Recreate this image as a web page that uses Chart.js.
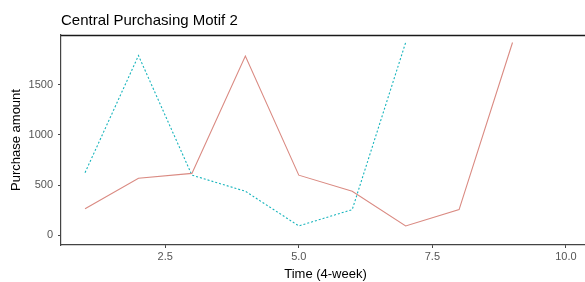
<!DOCTYPE html>
<html>
<head>
<meta charset="utf-8">
<script src="https://cdn.jsdelivr.net/npm/chart.js@4"></script>
<style>
  html, body { margin: 0; padding: 0; background: #fff; overflow: hidden; }
  #wrap { position: relative; width: 595px; height: 282px; }
</style>
</head>
<body>
<div id="wrap"><canvas id="chart"></canvas></div>
<script>
// -- data ---------------------------------------------------------------
var weeksA = [1, 2, 3, 4, 5, 6, 7, 8, 9];
var amountA = [265, 570, 618, 1785, 600, 440, 95, 257, 1920];   // solid red
var weeksB = [1, 2, 3, 4, 5, 6, 7];
var amountB = [625, 1790, 600, 440, 95, 257, 1920];             // dotted teal
var xTicks = [2.5, 5, 7.5, 10];
var yTicks = [0, 500, 1000, 1500];

var TITLE = 'Central Purchasing Motif 2';
var FONT = "'Liberation Sans', Arial, sans-serif";

function pts(xs, ys) { return xs.map(function(x, i) { return { x: x, y: ys[i] }; }); }

// title + top panel line
var decor = {
  id: 'decor',
  afterDraw: function(chart) {
    var ctx = chart.ctx, a = chart.chartArea;
    ctx.save();
    ctx.strokeStyle = '#1a1a1a';
    ctx.lineWidth = 1.5;
    ctx.beginPath();
    ctx.moveTo(a.left, a.top + 0.5);
    ctx.lineTo(a.right, a.top + 0.5);
    ctx.stroke();
    ctx.fillStyle = '#000';
    ctx.font = '15px ' + FONT;
    ctx.textBaseline = 'alphabetic';
    ctx.fillText(TITLE, 61, 25);
    ctx.restore();
  }
};

var axisGrid = { drawOnChartArea: false, drawTicks: true, tickLength: 3, color: '#444', lineWidth: 1 };
var tickFont = { family: FONT, size: 11 };

new Chart(document.getElementById('chart'), {
  type: 'line',
  data: {
    datasets: [
      {
        data: pts(weeksA, amountA),
        borderColor: '#DA8A82',
        borderWidth: 1.1,
        pointRadius: 0,
        fill: false,
        tension: 0,
      },
      {
        data: pts(weeksB, amountB),
        borderColor: '#16B4BC',
        borderWidth: 1.1,
        borderDash: [2, 2],
        pointRadius: 0,
        fill: false,
        tension: 0,
      },
    ],
  },
  options: {
    responsive: true,
    maintainAspectRatio: false,
    animation: false,
    devicePixelRatio: 1,
    layout: { padding: { top: 35, right: 5, left: 0, bottom: 0 } },
    plugins: { legend: { display: false }, tooltip: { enabled: false }, title: { display: false } },
    scales: {
      x: {
        type: 'linear',
        min: 0.55,
        max: 10.45,
        afterBuildTicks: function(s) { s.ticks = xTicks.map(function(v) { return { value: v }; }); },
        afterFit: function(s) { s.height = 37; },
        grid: axisGrid,
        border: { color: '#444', width: 1.2 },
        ticks: {
          font: tickFont, color: '#555', padding: 2, maxRotation: 0,
          callback: function(v) { return Number(v).toFixed(1); },
        },
        title: {
          display: true, text: 'Time (4-week)', color: '#000',
          font: { family: FONT, size: 13 }, padding: { top: 2, bottom: 0 },
        },
      },
      y: {
        min: -95,
        max: 1995,
        afterBuildTicks: function(s) { s.ticks = yTicks.map(function(v) { return { value: v }; }); },
        afterFit: function(s) { s.width = 61; },
        grid: axisGrid,
        border: { color: '#444', width: 1.2 },
        ticks: {
          font: tickFont, color: '#555', padding: 5,
          callback: function(v) { return String(v); },
        },
        title: {
          display: true, text: 'Purchase amount', color: '#000',
          font: { family: FONT, size: 13 }, padding: { top: 9, bottom: 0 },
        },
      },
    },
  },
  plugins: [decor],
});
</script>
</body>
</html>
